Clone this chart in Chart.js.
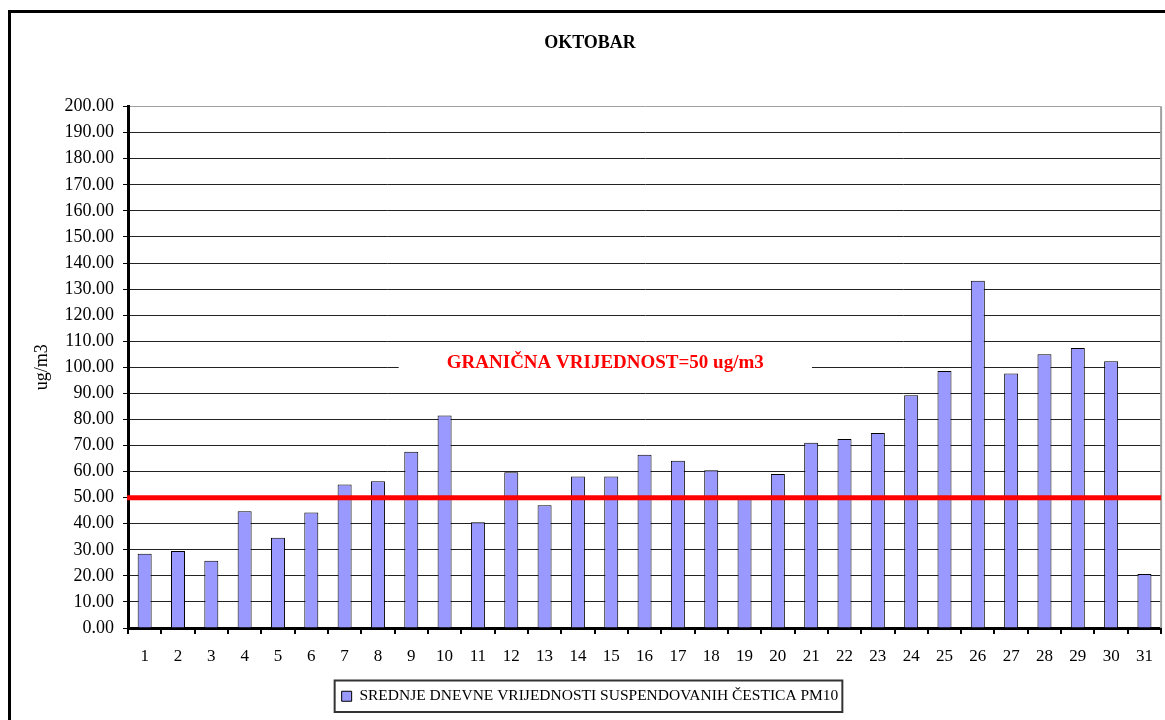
<!DOCTYPE html>
<html>
<head>
<meta charset="utf-8">
<script src="https://cdn.jsdelivr.net/npm/chart.js@4.4.1/dist/chart.umd.min.js"></script>
<style>
body{margin:0;background:#fff;overflow:hidden;}
#frame{position:absolute;left:8px;top:10px;width:1200px;height:760px;border-left:3px solid #000;border-top:3px solid #000;}
#chart{position:absolute;left:0;top:0;}
</style>
</head>
<body>
<div id="frame"></div>
<canvas id="chart" width="1165" height="720"></canvas>
<script>
// dani u mjesecu
const days = ['1','2','3','4','5','6','7','8','9','10','11','12','13','14','15','16',
    '17','18','19','20','21','22','23','24','25','26','27','28','29','30','31'];
// srednje dnevne vrijednosti PM10 (ug/m3)
const pm10 = [28.5, 29.5, 25.8, 44.8, 34.6, 44.3, 55.0, 56.3, 67.6, 81.5, 40.6, 59.7, 47.1, 58.1, 58.1,
    66.5, 64.2, 60.5, 50.3, 59.1, 71.1, 72.5, 74.8, 89.3, 98.6, 133.2, 97.6, 105.0, 107.4, 102.3, 20.7];
const limitValue = 50;
const limitLabel = 'GRANIČNA VRIJEDNOST=50 ug/m3';
const limitLabelAt = 101.5;
const seriesName = 'SREDNJE DNEVNE VRIJEDNOSTI SUSPENDOVANIH ČESTICA PM10';
const chartTitle = 'OKTOBAR';
const yTitle = 'ug/m3';
const yMin = 0, yMax = 200, yStep = 10;

const serif = "'Liberation Serif', 'Times New Roman', serif";

const limitPlugin = {
    id: 'limitLine',
    afterDatasetsDraw(chart){
        const ctx = chart.ctx;
        const a = chart.chartArea;
        const y = chart.scales.y;
        const py = y.getPixelForValue(limitValue);
        ctx.save();
        // desna ivica
        ctx.strokeStyle = '#a0a0a0';
        ctx.lineWidth = 2;
        ctx.beginPath();
        ctx.moveTo(a.right, a.top);
        ctx.lineTo(a.right, a.bottom);
        ctx.stroke();
        // granicna linija
        ctx.strokeStyle = '#ff0000';
        ctx.lineWidth = 5;
        ctx.beginPath();
        ctx.moveTo(a.left - 1, py);
        ctx.lineTo(a.right, py);
        ctx.stroke();
        // natpis
        const ly = y.getPixelForValue(limitLabelAt);
        const w = a.right - a.left;
        ctx.fillStyle = '#fff';
        ctx.fillRect(a.left + w * 0.262, ly - 9, w * 0.4, 18);
        ctx.fillStyle = '#ff0000';
        ctx.font = "bold 19px " + serif;
        ctx.textAlign = 'center';
        ctx.textBaseline = 'middle';
        ctx.fillText(limitLabel, a.left + w * 0.462, ly);
        ctx.restore();
    },
    afterDraw(chart){
        const box = chart.legend.legendHitBoxes[0];
        if (!box) return;
        const ctx = chart.ctx;
        ctx.save();
        ctx.strokeStyle = '#333';
        ctx.lineWidth = 2;
        ctx.strokeRect(box.left - 7, box.top - 8, box.width + 11, box.height + 16);
        ctx.restore();
    }
};

new Chart(document.getElementById('chart'), {
    type: 'bar',
    data: {
        labels: days,
        datasets: [{
            label: seriesName,
            data: pm10,
            backgroundColor: '#9999ff',
            borderColor: '#000',
            borderWidth: 1,
            barPercentage: 0.42,
            categoryPercentage: 1
        }]
    },
    options: {
        responsive: false,
        animation: false,
        layout: {padding: {left: 18, right: 3, top: 0, bottom: 6}},
        plugins: {
            title: {
                display: true,
                text: chartTitle,
                color: '#000',
                font: {family: serif, size: 18, weight: 'bold'},
                padding: {top: 33, bottom: 52}
            },
            legend: {
                position: 'bottom',
                labels: {
                    color: '#000',
                    font: {family: serif, size: 15.5},
                    boxWidth: 10,
                    boxHeight: 10,
                    padding: 8
                }
            },
            tooltip: {enabled: false}
        },
        scales: {
            x: {
                z: 1,
                grid: {
                    offset: true,
                    drawOnChartArea: false,
                    color: '#000',
                    lineWidth: 2,
                    tickLength: 6
                },
                border: {color: '#000', width: 3},
                ticks: {color: '#000', font: {family: serif, size: 17}, padding: 12, maxRotation: 0},
                afterFit(scale){
                    scale.height = 720 - 628 - scale.chart.legend.height - 6;
                }
            },
            y: {
                min: yMin,
                max: yMax,
                ticks: {
                    stepSize: yStep,
                    color: '#000',
                    font: {family: serif, size: 18},
                    padding: 9,
                    callback: v => v.toFixed(2)
                },
                grid: {
                    color: c => c.tick && c.tick.value === yMax ? '#a0a0a0' : '#222',
                    tickColor: '#000',
                    lineWidth: 1,
                    tickLength: 5
                },
                border: {color: '#000', width: 3},
                title: {
                    display: true,
                    text: yTitle,
                    color: '#000',
                    font: {family: serif, size: 18},
                    padding: {top: 13}
                },
                afterFit(scale){
                    scale.width = 110;
                }
            }
        }
    },
    plugins: [limitPlugin]
});
</script>
</body>
</html>
